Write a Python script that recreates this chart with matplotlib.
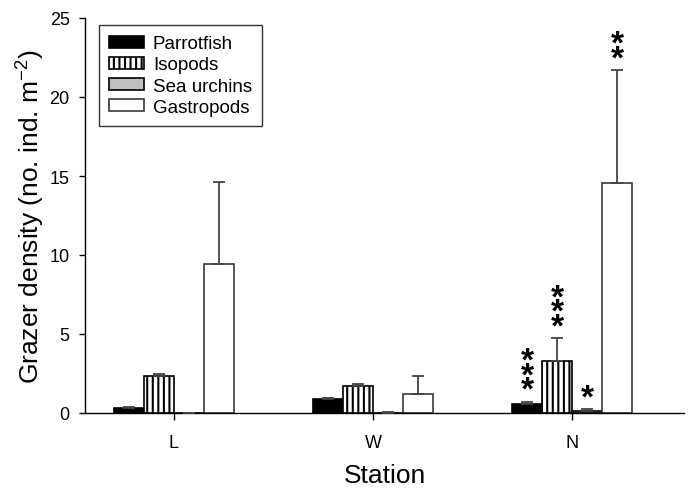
import numpy as np
import matplotlib
matplotlib.use("Agg")
import matplotlib.pyplot as plt

plt.rcParams["font.family"] = ["Liberation Sans", "DejaVu Sans"]
plt.rcParams["mathtext.fontset"] = "custom"
plt.rcParams["mathtext.rm"] = "Liberation Sans"
plt.rcParams["mathtext.default"] = "regular"
plt.rcParams["hatch.linewidth"] = 1.5

# data
stations = ["L", "W", "N"]
groups = ["Parrotfish", "Isopods", "Sea urchins", "Gastropods"]
parrotfish = [0.30, 0.87, 0.57]
parrotfish_se = [0.10, 0.10, 0.15]
isopods = [2.35, 1.73, 3.29]
isopods_se = [0.12, 0.11, 1.46]
urchins = [0.0, 0.02, 0.13]
urchins_se = [0.0, 0.06, 0.10]
gastropods = [9.43, 1.22, 14.54]
gastropods_se = [5.20, 1.10, 7.15]
# significance stars at N
stars_n = ["***", "***", "*", "**"]

means = [parrotfish, isopods, urchins, gastropods]
errs = [parrotfish_se, isopods_se, urchins_se, gastropods_se]
face = ["black", "white", "#c0c0c0", "white"]
edge = ["black", "black", "black", "#3a3a3a"]
hatch = [None, "|||", None, None]

fig = plt.figure(figsize=(6.88, 4.89), dpi=100)
ax = fig.add_axes([85 / 688, 1 - 414 / 489, 599 / 688, 395 / 489])

x = np.arange(len(stations))
w = 0.1508
offs = [-1.5, -0.5, 0.5, 1.5]

for i, name in enumerate(groups):
    xs = x + offs[i] * w
    ax.bar(xs, means[i], width=w, color=face[i], edgecolor=edge[i],
           hatch=hatch[i], linewidth=1.2, label=name, zorder=2)
    ax.errorbar(xs, means[i], yerr=[np.zeros(3), errs[i]], fmt="none",
                ecolor="#444444", elinewidth=1.3, capsize=4.3, capthick=1.3,
                zorder=3)

# stars above the N bars, stacked vertically
for i, s in enumerate(stars_n):
    xs = x[2] + offs[i] * w
    top = means[i][2] + errs[i][2]
    ax.annotate("\n".join(s), xy=(xs, top), xytext=(0, -3.0),
                textcoords="offset points", ha="center", va="bottom",
                multialignment="center", linespacing=0.31,
                fontsize=24, fontweight="bold", zorder=4)

ax.set_xlim(-0.447, 2.563)
ax.set_ylim(0, 25)
ax.set_xticks(x)
ax.set_xticklabels(stations)
ax.set_yticks([0, 5, 10, 15, 20, 25])
ax.spines["top"].set_visible(False)
ax.spines["right"].set_visible(False)
for sp in ["left", "bottom"]:
    ax.spines[sp].set_linewidth(1.0)
ax.tick_params(axis="y", direction="out", length=4, width=1, pad=7, labelsize=13)
ax.tick_params(axis="x", direction="out", length=5, width=1, pad=10, labelsize=13)

ax.set_xlabel("Station", fontsize=19, labelpad=9)
ax.set_ylabel("Grazer density (no. ind. m$^{-2}$)", fontsize=19, labelpad=2)

leg = ax.legend(loc="upper left", bbox_to_anchor=(14 / 599, 1 - 7 / 395),
                fontsize=13.5, frameon=True, fancybox=False, shadow=False,
                handlelength=1.87, handleheight=0.6, handletextpad=0.45,
                labelspacing=0.22, borderpad=0.55, borderaxespad=0)
leg.get_frame().set_edgecolor("black")
leg.get_frame().set_linewidth(1.0)

fig.savefig("out.png", dpi=100)
